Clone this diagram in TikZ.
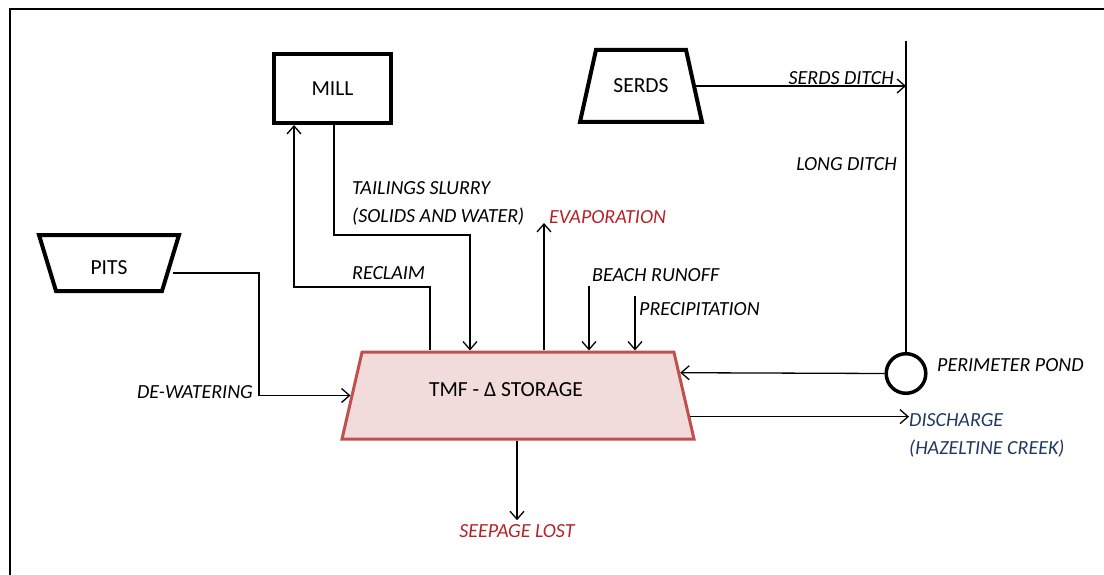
\documentclass[tikz,border=0pt]{standalone}
\usepackage{fontspec}
\setmainfont{Carlito}
\usetikzlibrary{shapes.geometric,arrows.meta}
\definecolor{tmfline}{RGB}{192,80,77}
\definecolor{tmffill}{RGB}{242,220,219}
\definecolor{lossred}{RGB}{180,35,40}
\definecolor{outblue}{RGB}{31,56,100}

\begin{document}
\begin{tikzpicture}[x=1pt,y=-1pt,
	flow/.style={draw,line width=1.3pt,-{Straight Barb[length=8pt,width=14pt,line width=1.3pt]}},
	plant/.style={draw,line width=4pt,inner sep=0pt,font=\fontsize{21.5}{24}\selectfont},
	slanted/.style={trapezium,trapezium stretches body,inner xsep=0pt},
	lbl/.style={inner sep=0pt,align=left,font=\fontsize{20}{28}\selectfont\itshape}]
	\useasboundingbox (0,0) rectangle (1104,575);
	\draw[line width=2pt] (9.6,575) -- (9.6,8.6) -- (1104,8.6);

	% sources and storage
	\node[plant,minimum width=117pt,minimum height=69pt] (mill) at (332.5,88.5) {MILL};
	\node[plant,slanted,trapezium angle=106.9,minimum width=140pt,
		text height=23pt,text depth=0pt,inner ysep=16.5pt] (pits) at (109,263) {PITS};
	\node[plant,slanted,trapezium angle=77.5,minimum width=122pt,
		text height=13pt,text depth=0pt,inner ysep=29.5pt] (serds) at (641,86) {SERDS};
	\node[slanted,trapezium angle=77,draw=tmfline,fill=tmffill,line width=3pt,
		minimum width=352pt,text height=13pt,text depth=11pt,inner ysep=31.5pt,
		font=\fontsize{21.5}{24}\selectfont] (tmf) at (518,395.5) {TMF - Δ STORAGE\hspace*{24pt}};
	\node[circle,draw,line width=3.5pt,minimum size=39.6pt,inner sep=0pt] (pond) at (906,373.5) {};

	% labels
	\node[lbl,anchor=west] (slurry) at (352,203) {TAILINGS SLURRY\\(SOLIDS AND WATER)};
	\node[lbl,anchor=west] (reclaim) at (352,273) {RECLAIM};
	\node[lbl,anchor=west,text=lossred] (evap) at (549,217) {EVAPORATION};
	\node[lbl,anchor=west] (beach) at (592,275) {BEACH RUNOFF};
	\node[lbl,anchor=west] (precip) at (639,309) {PRECIPITATION};
	\node[lbl,anchor=east] (dewater) at (253,392) {DE-WATERING};
	\node[lbl,anchor=east] (serdsditch) at (894,78) {SERDS DITCH};
	\node[lbl,anchor=east] (longditch) at (897,164) {LONG DITCH};
	\node[lbl,anchor=west] (pondlbl) at (937,365) {PERIMETER POND};
	\node[lbl,anchor=west,text=outblue] (disch) at (909,435) {DISCHARGE\\(HAZELTINE CREEK)};
	\node[lbl,text=lossred,inner sep=4pt] (seep) at (517,531) {SEEPAGE LOST};

	% bends and free ends
	\coordinate (rcA) at (430,287);
	\coordinate (rcB) at (294,287);
	\coordinate (tsA) at (334,235);
	\coordinate (tsB) at (470,235);
	\coordinate (evapTip) at (544,223);
	\coordinate (beachTop) at (589,286);
	\coordinate (precipTop) at (635,296);
	\coordinate (dwBend) at (259,330);
	\coordinate (ditchTop) at (906,41);

	% flows
	\draw[flow] (tmf.north -| rcA) -- (rcA) -- (rcB) -- (mill.south -| rcB);
	\draw[flow] (mill.south -| tsA) -- (tsA) -- (tsB) -- (tmf.north -| tsB);
	\draw[flow] (tmf.north -| evapTip) -- (evapTip);
	\draw[flow] (beachTop) -- (tmf.north -| beachTop);
	\draw[flow] (precipTop) -- (tmf.north -| precipTop);
	\draw[flow] ([yshift=-10pt]pits.east) -| (dwBend) |- (tmf.west);
	\draw[flow] (serds.east) -- (serds.east -| ditchTop);
	\draw[line width=1.3pt] (ditchTop) -- (pond.north);
	\draw[flow] (pond.west) -- (tmf.8);
	\draw[flow] (tmf.-7) -- (tmf.-7 -| disch.west);
	\draw[flow] (tmf.south -| seep.north) -- (seep.north);
\end{tikzpicture}
\end{document}
